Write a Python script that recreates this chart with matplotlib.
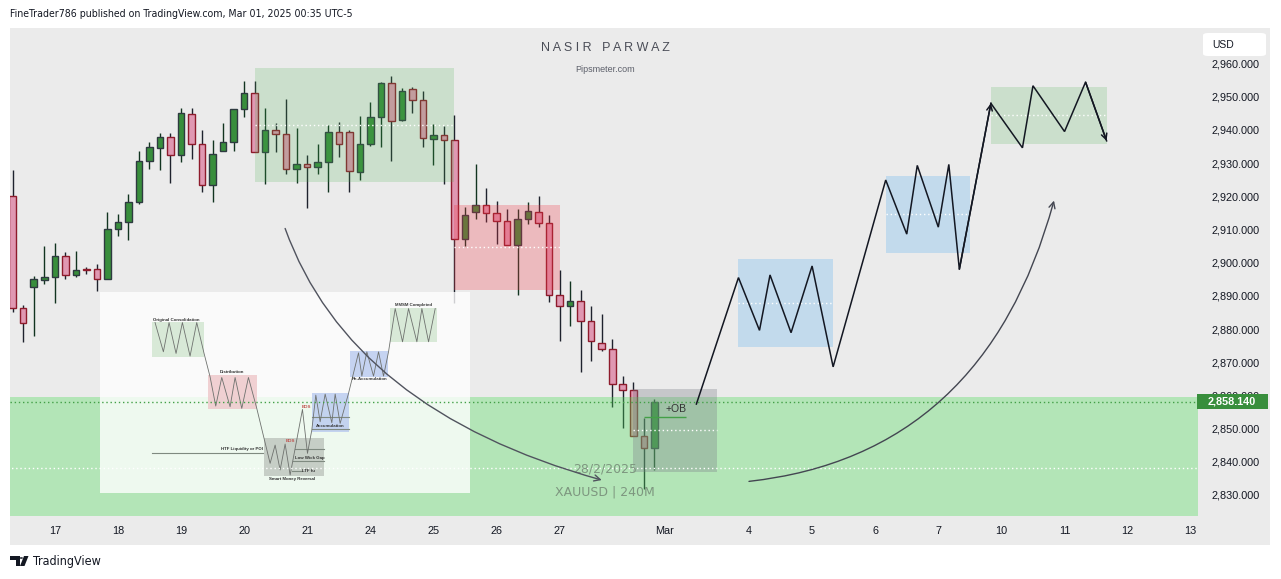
import matplotlib
matplotlib.use("Agg")
import matplotlib.pyplot as plt
import matplotlib.transforms as mtransforms
from matplotlib import font_manager
from matplotlib.font_manager import FontProperties
from matplotlib.patches import Rectangle, FancyBboxPatch, FancyArrowPatch, Polygon, Circle
from matplotlib.path import Path
import numpy as np

# --- XAUUSD 4H candles (bar index 0..61) ---
opens = [2920.2, 2886.3, 2892.6, 2894.7, 2895.6, 2902.0, 2896.3, 2897.9, 2898.1, 2895.0,
         2910.1, 2912.2, 2918.3, 2930.6, 2934.6, 2937.9, 2932.5, 2944.8, 2935.8, 2923.4,
         2933.7, 2936.4, 2946.3, 2951.2, 2933.4, 2940.0, 2938.8, 2928.2, 2929.7, 2928.7,
         2930.3, 2939.5, 2939.5, 2927.3, 2935.8, 2943.9, 2954.2, 2943.0, 2952.4, 2949.0,
         2937.3, 2938.5, 2937.0, 2907.1, 2915.2, 2917.4, 2915.0, 2912.6, 2905.3, 2913.2,
         2915.3, 2912.0, 2890.2, 2886.9, 2888.4, 2882.4, 2875.7, 2873.9, 2863.4, 2861.6,
         2847.7, 2844.1]
highs = [2928.0, 2887.2, 2896.0, 2904.9, 2906.0, 2903.3, 2903.6, 2898.8, 2899.7, 2915.4,
         2914.7, 2920.8, 2933.5, 2936.5, 2939.2, 2939.2, 2946.5, 2946.7, 2940.1, 2937.1,
         2942.2, 2946.3, 2954.6, 2954.6, 2946.7, 2942.2, 2949.4, 2940.7, 2932.5, 2935.6,
         2941.4, 2942.5, 2940.0, 2944.3, 2948.5, 2954.3, 2956.1, 2952.7, 2953.0, 2951.8,
         2941.8, 2941.2, 2944.5, 2916.8, 2929.8, 2922.6, 2918.7, 2916.3, 2916.3, 2918.4,
         2920.2, 2914.4, 2897.9, 2894.5, 2891.8, 2887.0, 2884.5, 2877.0, 2865.8, 2864.0,
         2853.1, 2858.8]
lows = [2885.0, 2876.2, 2878.0, 2893.5, 2887.7, 2895.0, 2895.8, 2896.6, 2891.6, 2895.0,
        2907.9, 2906.7, 2917.7, 2928.1, 2927.8, 2923.9, 2930.2, 2931.1, 2921.2, 2918.2,
        2933.7, 2933.5, 2943.8, 2933.4, 2923.6, 2933.2, 2926.6, 2923.9, 2916.4, 2926.6,
        2921.2, 2931.7, 2921.2, 2924.8, 2935.1, 2934.8, 2930.5, 2942.7, 2945.1, 2934.8,
        2929.3, 2923.6, 2887.8, 2904.9, 2913.3, 2912.1, 2905.5, 2905.3, 2890.4, 2911.5,
        2910.6, 2888.0, 2876.4, 2880.8, 2867.2, 2870.5, 2873.3, 2856.4, 2850.3, 2847.7,
        2831.7, 2837.4]
closes = [2886.3, 2881.8, 2895.0, 2895.7, 2902.1, 2896.3, 2897.8, 2897.7, 2895.0, 2910.1,
          2912.2, 2918.3, 2930.6, 2934.9, 2937.9, 2932.5, 2945.1, 2935.8, 2923.4, 2932.8,
          2936.4, 2946.3, 2951.2, 2933.4, 2940.0, 2938.8, 2928.2, 2929.7, 2928.7, 2930.3,
          2939.5, 2935.8, 2927.6, 2935.8, 2943.9, 2954.2, 2942.7, 2951.8, 2949.0, 2937.6,
          2938.5, 2937.0, 2907.1, 2914.4, 2917.4, 2914.9, 2912.6, 2905.3, 2913.2, 2915.6,
          2912.0, 2890.2, 2886.9, 2888.4, 2882.4, 2876.4, 2873.9, 2863.4, 2861.6, 2847.7,
          2844.1, 2858.14]

day_ticks = [4, 10, 16, 22, 28, 34, 40, 46, 52, 62, 70, 76, 82, 88, 94, 100, 106, 112]
day_labels = ["17", "18", "19", "20", "21", "24", "25", "26", "27", "Mar",
              "4", "5", "6", "7", "10", "11", "12", "13"]
price_ticks = list(range(2830, 2961, 10))
last_price = 2858.14

# drawings: (bar from, bar to, price low, price high)
consolidation_box = (23, 42, 2924.4, 2958.6)
supply_box = (42, 52, 2891.8, 2917.4)
ob_box = (59, 67, 2837.0, 2861.9)
demand_zone = (-2, 115, 2816.5, 2859.5)
reacc_box1 = (69, 78, 2874.7, 2901.1)
reacc_box2 = (83, 91, 2903.0, 2926.1)
target_box = (93, 104, 2935.8, 2952.9)

ob_line = (60, 64, 2853.4)

path_x = [65, 69, 71, 72, 74, 76, 78, 83, 85, 86, 88, 89, 90, 93]
path_p = [2857.4, 2895.5, 2879.6, 2896.3, 2878.9, 2899.0, 2868.6, 2924.9, 2908.6,
          2929.3, 2910.7, 2929.6, 2898.0, 2948.0]
path2_x = [93, 96, 97, 100, 102, 104]
path2_p = [2948.0, 2934.6, 2953.3, 2939.5, 2954.4, 2936.7]

# curved arrows: start, control, end  (bar, price)
curve_left = [(25.9, 2910.3), (32.1, 2855.6), (56.0, 2834.5)]
curve_right = [(70.0, 2834.1), (92.4, 2842.0), (99.0, 2918.7)]

# inset picture (the SMC schematic), placed on the chart in bar/price
inset_bounds = (8.3, 2830.7, 43.5, 2891.2)
# inside the picture: its own units (x 15..1125, y 5..608, y down)
inset_boxes = [
    (172, 95, 327, 200, "#d3e6d1"),
    (340, 255, 485, 358, "#efc9cc"),
    (507, 445, 687, 557, "#bfc7bf"),
    (651, 308, 762, 425, "#bccdf0"),
    (765, 183, 878, 262, "#bccdf0"),
    (884, 52, 1025, 157, "#d3e6d1"),
]
zig_x = [180, 205, 222, 243, 262, 285, 305, 327, 345, 362, 380, 405, 420, 440, 460, 485,
         525, 540, 555, 570, 585, 622, 637, 650, 662, 675, 690, 710, 720, 735, 760, 790,
         800, 815, 835, 850, 865, 880, 900, 922, 940, 965, 980, 1000, 1020]
zig_y = [97, 185, 97, 190, 97, 198, 97, 190, 260, 348, 262, 350, 262, 355, 262, 355,
         520, 465, 540, 462, 555, 358, 490, 420, 315, 395, 312, 398, 312, 400, 310, 188,
         258, 185, 258, 185, 258, 185, 55, 155, 55, 155, 55, 155, 55]
inset_lines = [(172, 505, 488), (600, 687, 478), (595, 687, 512), (590, 620, 542),
               (651, 762, 382), (651, 762, 418)]
inset_texts = [
    (245, 88, "Original Consolidation", "#333333"),
    (410, 247, "Distribution", "#333333"),
    (440, 478, "HTF Liquidity or POI", "#333333"),
    (643, 505, "Low Wick Gap", "#333333"),
    (640, 542, "LTF fu", "#333333"),
    (592, 566, "Smart Money Reversal", "#333333"),
    (705, 408, "Accumulation", "#333333"),
    (822, 268, "Re-Accumulation", "#333333"),
    (955, 44, "MMSM Completed", "#333333"),
    (585, 453, "BOS", "#c0504d"),
    (635, 350, "BOS", "#c0504d"),
]

SANS = "Liberation Sans"
# narrow face for header / footer when a condensed file exists
NARROW = FontProperties(family="DejaVu Sans", stretch="condensed")
if "Condensed" not in font_manager.findfont(NARROW):
    NARROW = FontProperties(family="Liberation Sans")
    NARROW_SIZE = 6.6
else:
    NARROW_SIZE = 7.6

W, H = 1281, 579
BG = "#ebebeb"
TXT = "#131722"

fig = plt.figure(figsize=(W / 100, H / 100), dpi=100, facecolor="white")
fig.patches.append(Rectangle((10 / W, 1 - 545 / H), 1260 / W, 517 / H,
                             transform=fig.transFigure, facecolor=BG, edgecolor="none",
                             zorder=-5))

ax = fig.add_axes([10 / W, 1 - 516 / H, 1188 / W, 488 / H])
ax.set_facecolor(BG)
for s in ax.spines.values():
    s.set_visible(False)
ax.set_xlim(-0.257, 112.69)
ax.set_ylim(2823.67, 2970.7)

# candles
o = np.array(opens)
h = np.array(highs)
l = np.array(lows)
c = np.array(closes)
idx = np.arange(len(o))
up = c >= o
styles = [(up, "#388e3c", "#2e3a40", "#123420"), (~up, "#e098b2", "#8e1b2c", "#1e222d")]
for mask, fill, edge, wick in styles:
    ax.vlines(idx[mask], l[mask], h[mask], color=wick, lw=1.0, zorder=2)
    ax.bar(idx[mask], np.maximum(np.abs(c - o)[mask], 0.3), bottom=np.minimum(o, c)[mask],
           width=0.62, color=fill, edgecolor=edge, lw=1.0, zorder=3)


def box(b, color, alpha, mid=True, z=4):
    x0, x1, p0, p1 = b
    ax.add_patch(Rectangle((x0, p0), x1 - x0, p1 - p0, facecolor=color, alpha=alpha,
                           edgecolor="none", zorder=z))
    if mid:
        ax.hlines((p0 + p1) / 2, x0, x1, colors="white", linestyles=(0, (1, 2)), lw=1.0,
                  zorder=6)


box(demand_zone, "#4cda56", 0.35)
box(consolidation_box, "#4caf50", 0.2)
box(supply_box, "#f23645", 0.27)
box(ob_box, "#787b86", 0.32)
box(reacc_box1, "#2196f3", 0.2)
box(reacc_box2, "#2196f3", 0.2)
box(target_box, "#4caf50", 0.2)

ax.axhline(last_price, color="#43a047", ls=(0, (1, 2)), lw=1.0, zorder=6)
ax.hlines(ob_line[2], ob_line[0], ob_line[1], colors="#43a047", lw=1.0, zorder=6)
ax.text(62.06, 2855.9, "+OB", fontsize=7.5, family=SANS, color="#333333", va="center",
        ha="left", zorder=7)
ax.text(56.3, 2837.8, "28/2/2025", fontsize=9, color="#7d967f", ha="center", va="center",
        zorder=7)
ax.text(56.3, 2830.8, "XAUUSD | 240M", fontsize=9, color="#7d967f", ha="center",
        va="center", zorder=7)

# projected path
ax.plot(path_x, path_p, color=TXT, lw=1.1, zorder=7, solid_joinstyle="miter")
ax.plot(path2_x, path2_p, color=TXT, lw=1.1, zorder=7, solid_joinstyle="miter")
for xs, ps in [(path_x, path_p), (path2_x, path2_p)]:
    ax.annotate("", xy=(xs[-1], ps[-1]), xytext=(xs[-2], ps[-2]),
                arrowprops=dict(arrowstyle="->", color=TXT, lw=1.1, mutation_scale=10,
                                shrinkA=0, shrinkB=0), zorder=7)

for pts, col in [(curve_left, "#50535e"), (curve_right, "#434651")]:
    cpath = Path(pts, [Path.MOVETO, Path.CURVE3, Path.CURVE3])
    ax.add_patch(FancyArrowPatch(path=cpath, arrowstyle="->", mutation_scale=11, lw=1.0,
                                 color=col, zorder=8))

# inset schematic
x0, p0, x1, p1 = inset_bounds
iax = ax.inset_axes([x0, p0, x1 - x0, p1 - p0], transform=ax.transData, zorder=5)
iax.set_facecolor((1, 1, 1, 0.78))
iax.set_xlim(15, 1125)
iax.set_ylim(608, 5)
iax.set_xticks([])
iax.set_yticks([])
for s in iax.spines.values():
    s.set_visible(False)
for bx0, by0, bx1, by1, col in inset_boxes:
    iax.add_patch(Rectangle((bx0, by0), bx1 - bx0, by1 - by0, facecolor=col, alpha=0.85,
                            edgecolor="none"))
for lx0, lx1, ly in inset_lines:
    iax.plot([lx0, lx1], [ly, ly], color="#7f8a80", lw=0.8)
iax.plot(zig_x, zig_y, color="#6e716e", lw=0.6)
for tx, ty, t, col in inset_texts:
    iax.text(tx, ty, t, fontsize=3.2, color=col, ha="center", va="center",
             fontweight="bold", family=SANS)

# axes labels
ax.yaxis.tick_right()
ax.set_yticks(price_ticks)
ax.set_yticklabels([f"{p:,.3f}" for p in price_ticks], family=SANS)
ax.tick_params(axis="y", length=0, pad=10, labelsize=7.8, labelcolor=TXT)
ax.set_xticks(day_ticks)
ax.set_xticklabels(day_labels, family=SANS)
ax.tick_params(axis="x", length=0, pad=7, labelsize=7.8, labelcolor=TXT)

trans = mtransforms.blended_transform_factory(ax.transAxes, ax.transData)
ax.add_patch(Rectangle((-1 / 1188, last_price - 2.3), 71 / 1188, 4.6, transform=trans,
                       clip_on=False, facecolor="#388e3c", edgecolor="none", zorder=10))
ax.patches[-1].set_x(1 - 1 / 1188)
ax.text(1 + 34 / 1188, last_price, f"{last_price:,.3f}", transform=trans, ha="center",
        va="center", color="white", fontsize=7.8, fontweight="bold", family=SANS,
        zorder=11, clip_on=False)

# USD badge
fig.patches.append(FancyBboxPatch((1203 / W, 1 - 56 / H), 63 / W, 23 / H,
                                  boxstyle="round,pad=0,rounding_size=0.004",
                                  transform=fig.transFigure, facecolor="white",
                                  edgecolor="none", zorder=3))
fig.text(1212 / W, 1 - 44.5 / H, "USD", fontsize=7.5, family=SANS, color=TXT, va="center",
         zorder=4)

# header / watermark / footer
fig.text(10 / W, 1 - 14 / H, "FineTrader786 published on TradingView.com, Mar 01, 2025 00:35 UTC-5",
         fontproperties=NARROW, fontsize=NARROW_SIZE, color=TXT, va="center", ha="left")
fig.text(605 / W, 1 - 48 / H, "N A S I R   P A R W A Z", fontsize=9, family=SANS,
         color="#4a4d57", ha="center", va="center")
fig.text(605 / W, 1 - 69 / H, "Pipsmeter.com", fontsize=6.5, family=SANS, color="#5d606b",
         ha="center", va="center")

logo = [
    Polygon([(10 / W, 1 - 556 / H), (19.5 / W, 1 - 556 / H), (19.5 / W, 1 - 566 / H),
             (15.5 / W, 1 - 566 / H), (15.5 / W, 1 - 559.5 / H), (10 / W, 1 - 559.5 / H)],
            closed=True),
    Polygon([(24 / W, 1 - 556 / H), (28.5 / W, 1 - 556 / H), (24.5 / W, 1 - 566 / H),
             (20 / W, 1 - 566 / H)], closed=True),
]
for pch in logo:
    pch.set_transform(fig.transFigure)
    pch.set_facecolor(TXT)
    pch.set_edgecolor("none")
    fig.patches.append(pch)
fig.patches.append(Circle((21.3 / W, 1 - 558 / H), 1.7 / W, transform=fig.transFigure,
                          facecolor=TXT, edgecolor="none"))
fig.text(33 / W, 1 - 561 / H, "TradingView", fontproperties=NARROW,
         fontsize=NARROW_SIZE + 1.4, color=TXT, va="center", ha="left")

fig.savefig("out.png", dpi=100, facecolor="white")
